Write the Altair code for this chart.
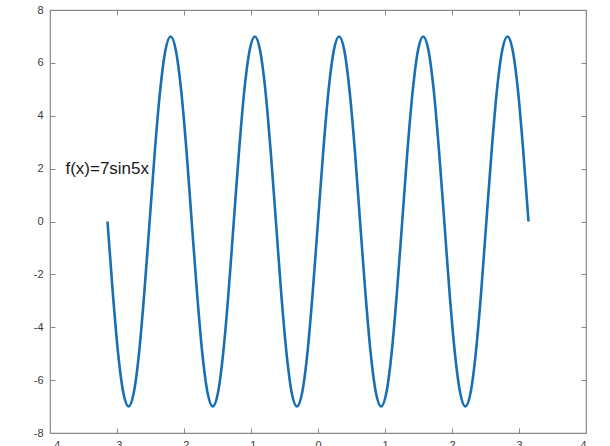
import altair as alt
import pandas as pd

# Curve samples: f(x) = 7 sin 5x over [-pi, pi]
x_vals = [
    -3.142, -3.063, -2.985, -2.906, -2.827, -2.749, -2.670, -2.592,
    -2.513, -2.435, -2.356, -2.278, -2.199, -2.121, -2.042, -1.963,
    -1.885, -1.806, -1.728, -1.649, -1.571, -1.492, -1.414, -1.335,
    -1.257, -1.178, -1.100, -1.021, -0.942, -0.864, -0.785, -0.707,
    -0.628, -0.550, -0.471, -0.393, -0.314, -0.236, -0.157, -0.079,
    0.000, 0.079, 0.157, 0.236, 0.314, 0.393, 0.471, 0.550,
    0.628, 0.707, 0.785, 0.864, 0.942, 1.021, 1.100, 1.178,
    1.257, 1.335, 1.414, 1.492, 1.571, 1.649, 1.728, 1.806,
    1.885, 1.963, 2.042, 2.121, 2.199, 2.278, 2.356, 2.435,
    2.513, 2.592, 2.670, 2.749, 2.827, 2.906, 2.985, 3.063,
    3.142,
]
y_vals = [
    0.0, -2.68, -4.95, -6.47, -7.0, -6.47, -4.95, -2.68,
    0.0, 2.68, 4.95, 6.47, 7.0, 6.47, 4.95, 2.68,
    0.0, -2.68, -4.95, -6.47, -7.0, -6.47, -4.95, -2.68,
    0.0, 2.68, 4.95, 6.47, 7.0, 6.47, 4.95, 2.68,
    0.0, -2.68, -4.95, -6.47, -7.0, -6.47, -4.95, -2.68,
    0.0, 2.68, 4.95, 6.47, 7.0, 6.47, 4.95, 2.68,
    0.0, -2.68, -4.95, -6.47, -7.0, -6.47, -4.95, -2.68,
    0.0, 2.68, 4.95, 6.47, 7.0, 6.47, 4.95, 2.68,
    0.0, -2.68, -4.95, -6.47, -7.0, -6.47, -4.95, -2.68,
    0.0, 2.68, 4.95, 6.47, 7.0, 6.47, 4.95, 2.68,
    0.0,
]
x_ticks = [-4, -3, -2, -1, 0, 1, 2, 3, 4]
y_ticks = [-8, -6, -4, -2, 0, 2, 4, 6, 8]
label_text = ["f(x)=7sin5x"]
label_x = [-3.77]
label_y = [2.0]

curve = pd.DataFrame({"x": x_vals, "y": y_vals})
note = pd.DataFrame({"x": label_x, "y": label_y, "t": label_text})

AX = "#8a8a8a"
LAB = "#3a3a3a"
FONT = "Liberation Sans"

xs = alt.Scale(domain=[-4, 4], nice=False, zero=False)
ys = alt.Scale(domain=[-8, 8], nice=False, zero=False)

common = dict(domain=False, grid=False, tickColor=AX, tickWidth=1, tickSize=5,
              offset=-5, labelFont=FONT, labelFontSize=11, labelColor=LAB)

line = alt.Chart(curve).mark_line(
    color="#1a6fb2", strokeWidth=2.6, interpolate="monotone"
).encode(
    x=alt.X("x:Q", scale=xs, title=None,
            axis=alt.Axis(orient="bottom", values=x_ticks, labelPadding=6,
                          labelExpr="'' + datum.value", **common)),
    y=alt.Y("y:Q", scale=ys, title=None,
            axis=alt.Axis(orient="left", values=y_ticks, labelPadding=7,
                          labelExpr="'' + datum.value", **common)),
    order=alt.Order("x:Q"),
)

text = alt.Chart(note).mark_text(
    align="left", baseline="middle", font=FONT, fontSize=17, color="#1a1a1a"
).encode(
    x=alt.X("x:Q", scale=xs, title=None,
            axis=alt.Axis(orient="top", values=x_ticks, labels=False, **common)),
    y=alt.Y("y:Q", scale=ys, title=None,
            axis=alt.Axis(orient="right", values=y_ticks, labels=False, **common)),
    text="t:N",
)

chart = alt.layer(line, text).resolve_axis(
    x="independent", y="independent"
).properties(
    width=536, height=423,
    padding={"left": 50, "top": 10, "right": 24, "bottom": 13},
    autosize=alt.AutoSizeParams(type="none"),
    background="white",
).configure_view(stroke=AX, strokeWidth=1.2)

chart.save("out.html", embed_options={"renderer": "svg", "actions": False})
